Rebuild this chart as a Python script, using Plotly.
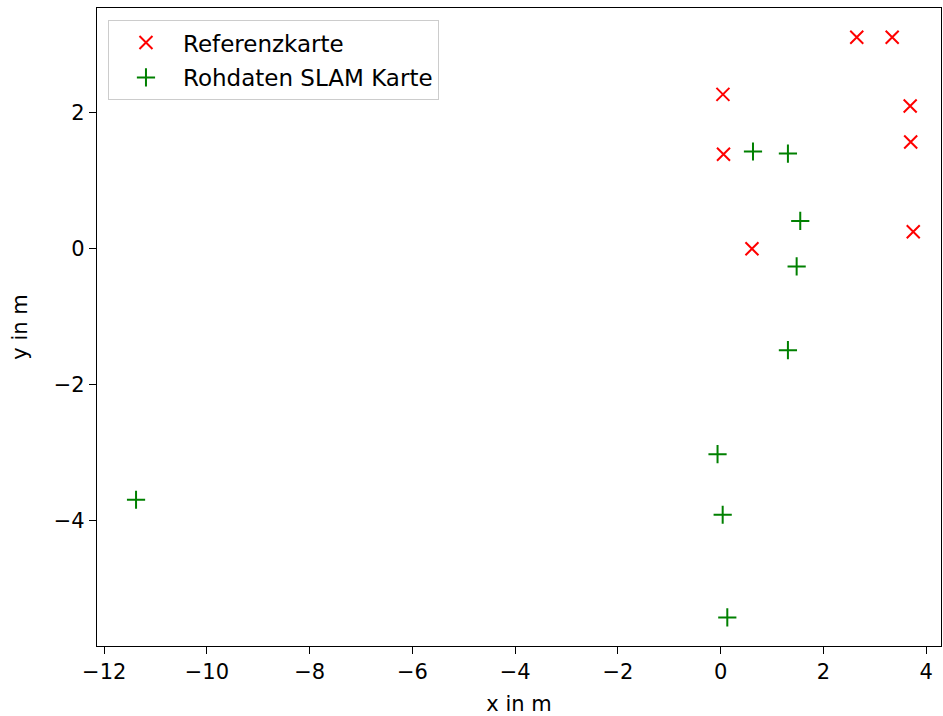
import plotly.graph_objects as go

ref_x = [2.65, 3.34, 0.045, 3.69, 3.70, 0.056, 0.61, 3.75]
ref_y = [3.11, 3.11, 2.27, 2.10, 1.57, 1.39, 0.0, 0.25]

slam_x = [0.63, 1.31, 1.55, 1.48, 1.31, -0.06, 0.04, 0.13, -11.38]
slam_y = [1.43, 1.40, 0.41, -0.26, -1.49, -3.02, -3.91, -5.42, -3.69]

x_ticks = [-12, -10, -8, -6, -4, -2, 0, 2, 4]
y_ticks = [-4, -2, 0, 2]

font = dict(family="DejaVu Sans", size=21, color="black")
legend_font = dict(family="DejaVu Sans", size=23, color="black")

fig = go.Figure()
fig.add_trace(go.Scatter(
    x=ref_x, y=ref_y, mode="markers", name="Referenzkarte", legendgroup="a",
    marker=dict(symbol="x-thin", size=13, color="red", line=dict(color="red", width=2)),
))
fig.add_trace(go.Scatter(
    x=slam_x, y=slam_y, mode="markers", name="Rohdaten SLAM Karte", legendgroup="b",
    marker=dict(symbol="cross-thin", size=13, color="green", line=dict(color="green", width=2)),
))

axis_common = dict(
    showgrid=False, zeroline=False, showline=True, linecolor="black", linewidth=1.2,
    mirror=True, ticks="outside", ticklen=7, tickwidth=1.2, tickcolor="black",
    tickfont=font,
)
fig.update_xaxes(range=[-12.14, 4.29], tickvals=x_ticks,
                 ticktext=[str(v).replace("-", "\u2212") for v in x_ticks],
                 title=dict(text="x in m", font=font, standoff=16), **axis_common)
fig.update_yaxes(range=[-5.84, 3.54], tickvals=y_ticks,
                 ticktext=[str(v).replace("-", "\u2212") for v in y_ticks],
                 title=dict(text="y in m", font=font, standoff=20), **axis_common)

fig.update_layout(
    width=943, height=716,
    margin=dict(l=97, r=2, t=8, b=70),
    paper_bgcolor="white", plot_bgcolor="white",
    font=font,
    showlegend=True,
    legend=dict(x=0.013, y=0.981, xanchor="left", yanchor="top",
                bgcolor="rgba(255,255,255,0.8)", bordercolor="#cccccc", borderwidth=1,
                font=legend_font, itemwidth=64, tracegroupgap=2),
)

fig.write_html("out.html", config={"displayModeBar": False},
               post_script="document.body.style.margin='0';")
